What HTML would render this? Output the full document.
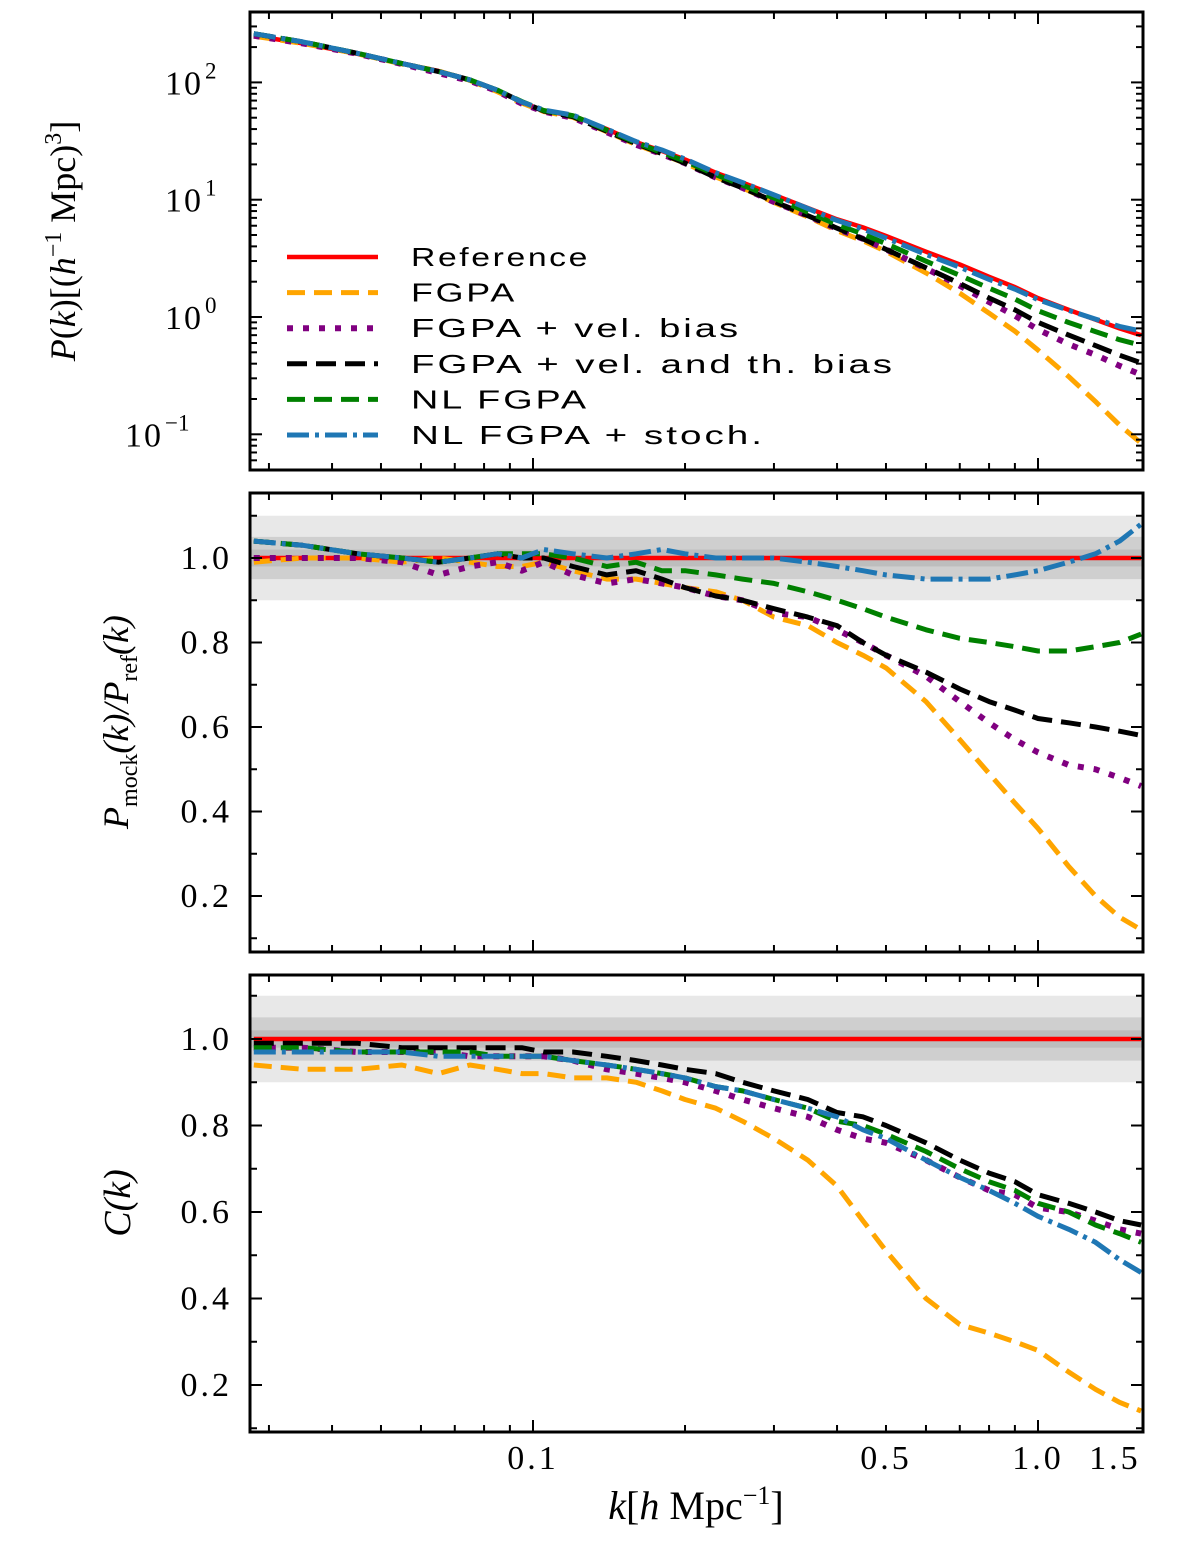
<!DOCTYPE html>
<html><head><meta charset="utf-8"><style>
body{margin:0;background:#fff}
svg text{font-family:"Liberation Serif",serif}
</style></head><body>
<svg id="fig" width="1200" height="1543" viewBox="0 0 1200 1543" xmlns="http://www.w3.org/2000/svg"></svg>
<script>
const kVals=[0.028,0.035,0.045,0.055,0.065,0.075,0.085,0.095,0.105,0.12,0.14,0.16,0.18,0.2,0.23,0.26,0.3,0.35,0.4,0.45,0.5,0.6,0.7,0.8,0.9,1.0,1.15,1.3,1.45,1.6];
const pRef=[250,215,175,145,125,105,85,68,57,52,40,31,26,22,17,14,11,8.5,6.8,5.8,4.9,3.6,2.8,2.2,1.8,1.45,1.15,0.95,0.8,0.7];
const ratioFGPA=[0.99,1.0,1.0,0.99,1.0,0.99,0.98,0.98,0.99,0.97,0.95,0.95,0.94,0.93,0.92,0.90,0.86,0.84,0.80,0.77,0.74,0.66,0.57,0.49,0.42,0.36,0.27,0.20,0.15,0.12];
const ratioVel=[1.0,1.0,1.0,0.99,0.96,0.98,0.99,0.97,0.99,0.96,0.94,0.95,0.94,0.93,0.91,0.90,0.87,0.86,0.83,0.80,0.77,0.72,0.66,0.61,0.57,0.54,0.51,0.50,0.48,0.46];
const ratioVelTh=[1.04,1.03,1.01,1.0,0.99,1.0,1.01,1.0,1.0,0.98,0.96,0.97,0.95,0.93,0.91,0.90,0.88,0.86,0.84,0.80,0.77,0.73,0.69,0.66,0.64,0.62,0.61,0.60,0.59,0.58];
const ratioNL=[1.04,1.03,1.01,1.0,0.99,1.0,1.01,1.01,1.01,1.0,0.98,0.99,0.97,0.97,0.96,0.95,0.94,0.92,0.90,0.88,0.86,0.83,0.81,0.80,0.79,0.78,0.78,0.79,0.80,0.82];
const ratioStoch=[1.04,1.03,1.01,1.0,0.99,1.0,1.01,1.0,1.02,1.01,1.0,1.01,1.02,1.01,1.0,1.0,1.0,0.99,0.98,0.97,0.96,0.95,0.95,0.95,0.96,0.97,0.99,1.01,1.04,1.08];
const corrFGPA=[0.94,0.93,0.93,0.94,0.92,0.94,0.93,0.92,0.92,0.91,0.91,0.90,0.88,0.86,0.84,0.81,0.77,0.72,0.66,0.58,0.51,0.40,0.34,0.32,0.30,0.28,0.23,0.19,0.16,0.14];
const corrVel=[0.98,0.98,0.97,0.97,0.97,0.96,0.96,0.96,0.96,0.95,0.93,0.92,0.91,0.90,0.88,0.86,0.84,0.82,0.79,0.77,0.76,0.72,0.68,0.65,0.64,0.61,0.60,0.58,0.56,0.55];
const corrVelTh=[0.99,0.99,0.99,0.98,0.98,0.98,0.98,0.98,0.97,0.97,0.96,0.95,0.94,0.93,0.92,0.90,0.88,0.86,0.83,0.82,0.80,0.76,0.72,0.69,0.67,0.64,0.62,0.60,0.58,0.57];
const corrNL=[0.98,0.98,0.97,0.97,0.97,0.97,0.96,0.96,0.96,0.95,0.94,0.93,0.92,0.91,0.89,0.88,0.86,0.84,0.81,0.80,0.78,0.74,0.70,0.67,0.65,0.62,0.60,0.57,0.55,0.53];
const corrStoch=[0.97,0.97,0.97,0.97,0.96,0.96,0.96,0.96,0.96,0.95,0.94,0.93,0.92,0.91,0.89,0.88,0.86,0.84,0.82,0.79,0.77,0.72,0.68,0.65,0.62,0.59,0.56,0.53,0.49,0.46];
const xTickVals=[0.1,0.5,1.0,1.5];
const xTickLabels=["0.1","0.5","1.0","1.5"];
const linTickVals=[0.2,0.4,0.6,0.8,1.0];
const linTickLabels=["0.2","0.4","0.6","0.8","1.0"];
const legendLabels=["Reference","FGPA","FGPA + vel. bias","FGPA + vel. and th. bias","NL FGPA","NL FGPA + stoch."];
const legendWidths=[179,106,330,484,178,354];

const NS="http://www.w3.org/2000/svg";
const svg=document.getElementById('fig');
function mk(tag,attrs,parent){const e=document.createElementNS(NS,tag);for(const a in attrs)e.setAttribute(a,attrs[a]);(parent||svg).appendChild(e);return e;}
const X0=250,X1=1143;
const xs=k=>533+505*Math.log10(k/0.1);
const styles=[
 {c:"#ff0000",d:"",w:4.5},
 {c:"#ffa500",d:"18 9",w:5},
 {c:"#800080",d:"6 10",w:6},
 {c:"#000000",d:"20 9",w:5},
 {c:"#008000",d:"18 9",w:5},
 {c:"#1f77b4",d:"22 6 4 6",w:5}];
const names=["reference","fgpa","fgpa-vel-bias","fgpa-vel-th-bias","nl-fgpa","nl-fgpa-stoch"];

function panel(name){
  const g=mk('g',{});
  
  
  return g;
}
function line(g,vals,ys,si,nm){
  const s=styles[si];
  const d=kVals.map((k,i)=>(i?'L':'M')+xs(k).toFixed(1)+' '+ys(vals[i]).toFixed(1)).join(' ');
  const p=mk('path',{d:d,fill:'none',stroke:s.c,'stroke-width':s.w,'stroke-dasharray':s.d,'stroke-linejoin':'round'},g);
  
  
}
function frame(g,y0,y1){
  const r=mk('rect',{x:X0,y:y0,width:X1-X0,height:y1-y0,fill:'none',stroke:'#000','stroke-width':3},g);
  
  
  for(let dec=0.01;dec<=1;dec*=10){for(let m=1;m<10;m++){const k=dec*m;const x=xs(k);if(x<X0||x>X1)continue;
    const L=(m==1)?12:7;
    mk('line',{x1:x,x2:x,y1:y1,y2:y1-L,stroke:'#000','stroke-width':2},g);
    mk('line',{x1:x,x2:x,y1:y0,y2:y0+L,stroke:'#000','stroke-width':2},g);}}
}
function bands(g,ys){
  [[0.9,1.1,'#e8e8e8'],[0.95,1.05,'#cfcfcf'],[0.98,1.02,'#bdbdbd']].forEach(b=>{
    const r=mk('rect',{x:X0,y:ys(b[1]),width:X1-X0,height:ys(b[0])-ys(b[1]),fill:b[2]},g);
    
    
  });
}
function linY(g,ys){
  linTickVals.forEach((v,i)=>{const y=ys(v);
    mk('line',{x1:X0,x2:X0+12,y1:y,y2:y,stroke:'#000','stroke-width':2},g);
    mk('line',{x1:X1,x2:X1-12,y1:y,y2:y,stroke:'#000','stroke-width':2},g);
    const t=mk('text',{x:232,y:y+11,'text-anchor':'end','font-size':34,'letter-spacing':3},g);t.textContent=linTickLabels[i];
    
    
  });
  for(let v=0.1;v<1.15;v+=0.1){const y=ys(v);if(Math.abs(Math.round(v*10)%2)===0)continue;
    mk('line',{x1:X0,x2:X0+7,y1:y,y2:y,stroke:'#000','stroke-width':2},g);
    mk('line',{x1:X1,x2:X1-7,y1:y,y2:y,stroke:'#000','stroke-width':2},g);}
}

// ---------- Top panel ----------
const tY0=12,tY1=470;
const ysTop=p=>317-117.3*Math.log10(p);
const gTop=panel('power-spectrum-panel');
const seriesTop=[pRef,pRef.map((p,i)=>p*ratioFGPA[i]),pRef.map((p,i)=>p*ratioVel[i]),pRef.map((p,i)=>p*ratioVelTh[i]),pRef.map((p,i)=>p*ratioNL[i]),pRef.map((p,i)=>p*ratioStoch[i])];
const clipT=mk('clipPath',{id:'ct'});mk('rect',{x:X0,y:tY0,width:X1-X0,height:tY1-tY0},clipT);
const gT2=mk('g',{'clip-path':'url(#ct)'},gTop);
[0,1,2,3,4,5].forEach(i=>line(gT2,seriesTop[i],ysTop,i,'pk-line-'+names[i]));
frame(gTop,tY0,tY1);
[[2,'2'],[1,'1'],[0,'0'],[-1,'−1']].forEach(e=>{const y=ysTop(Math.pow(10,e[0]));
  mk('line',{x1:X0,x2:X0+12,y1:y,y2:y,stroke:'#000','stroke-width':2},gTop);
  mk('line',{x1:X1,x2:X1-12,y1:y,y2:y,stroke:'#000','stroke-width':2},gTop);
  const neg=e[1]=='−1';
  const t=mk('text',{x:neg?125:165,y:y+12,'text-anchor':'start','font-size':34,'letter-spacing':2},gTop);t.textContent='10';
  
  
  const s=mk('text',{x:neg?165:205,y:y-4,'text-anchor':'start','font-size':23},gTop);s.textContent=e[1];
});
for(let e=-2;e<3;e++)for(let m=2;m<10;m++){const y=ysTop(m*Math.pow(10,e));if(y<tY0||y>tY1)continue;
  mk('line',{x1:X0,x2:X0+7,y1:y,y2:y,stroke:'#000','stroke-width':2},gTop);
  mk('line',{x1:X1,x2:X1-7,y1:y,y2:y,stroke:'#000','stroke-width':2},gTop);}
const gL=mk('g',{},gTop);


legendLabels.forEach((lab,i)=>{const y=257+i*35.6;const s=styles[i];
  mk('line',{x1:287,x2:378,y1:y,y2:y,stroke:s.c,'stroke-width':s.w,'stroke-dasharray':s.d},gL);
  const t=mk('text',{x:411,y:y+9,'font-size':26,'letter-spacing':2,textLength:legendWidths[i],lengthAdjust:'spacingAndGlyphs','style':'font-family:"Liberation Sans",sans-serif'},gL);t.textContent=lab;
  
  
});
const yt1=mk('text',{x:0,y:0,'font-size':36,'text-anchor':'middle',transform:'translate(75,241) rotate(-90)'});
yt1.innerHTML='<tspan font-style="italic">P</tspan>(<tspan font-style="italic">k</tspan>)[(<tspan font-style="italic">h</tspan><tspan font-size="24" dy="-14">−1</tspan><tspan dy="14"> Mpc)</tspan><tspan font-size="24" dy="-14">3</tspan><tspan dy="14">]</tspan>';



// ---------- Middle panel ----------
const mY0=493,mY1=952;
const ysMid=v=>558-422.5*(v-1);
const gMid=panel('ratio-panel');
bands(gMid,ysMid);
const clipM=mk('clipPath',{id:'cm'});mk('rect',{x:X0,y:mY0,width:X1-X0,height:mY1-mY0},clipM);
const gM2=mk('g',{'clip-path':'url(#cm)'},gMid);
line(gM2,kVals.map(()=>1),ysMid,0,'ratio-line-reference');
[ratioFGPA,ratioVel,ratioVelTh,ratioNL,ratioStoch].forEach((a,i)=>line(gM2,a,ysMid,i+1,'ratio-line-'+names[i+1]));
frame(gMid,mY0,mY1);linY(gMid,ysMid);
const yt2=mk('text',{x:0,y:0,'font-size':36,'font-style':'italic','text-anchor':'middle',transform:'translate(128,722) rotate(-90)'});
yt2.innerHTML='P<tspan font-size="24" dy="9" font-style="normal">mock</tspan><tspan dy="-9">(k)/P</tspan><tspan font-size="24" dy="9" font-style="normal">ref</tspan><tspan dy="-9">(k)</tspan>';



// ---------- Bottom panel ----------
const bY0=975,bY1=1432;
const ysBot=v=>1039-432.5*(v-1);
const gBot=panel('correlation-panel');
bands(gBot,ysBot);
const clipB=mk('clipPath',{id:'cb'});mk('rect',{x:X0,y:bY0,width:X1-X0,height:bY1-bY0},clipB);
const gB2=mk('g',{'clip-path':'url(#cb)'},gBot);
line(gB2,kVals.map(()=>1),ysBot,0,'corr-line-reference');
[corrFGPA,corrVel,corrVelTh,corrNL,corrStoch].forEach((a,i)=>line(gB2,a,ysBot,i+1,'corr-line-'+names[i+1]));
frame(gBot,bY0,bY1);linY(gBot,ysBot);
const yt3=mk('text',{x:0,y:0,'font-size':38,'font-style':'italic','text-anchor':'middle',transform:'translate(130,1203) rotate(-90)'});
yt3.textContent='C(k)';



xTickVals.forEach((v,i)=>{const t=mk('text',{x:xs(v)+(i==3?-12:0),y:1469,'text-anchor':'middle','font-size':34,'letter-spacing':3});t.textContent=xTickLabels[i];
  
  });
const xt=mk('text',{x:696,y:1519,'text-anchor':'middle','font-size':40});
xt.innerHTML='<tspan font-style="italic">k</tspan>[<tspan font-style="italic">h</tspan> Mpc<tspan font-size="26" dy="-15">−1</tspan><tspan dy="15">]</tspan>';


</script>
</body></html>
